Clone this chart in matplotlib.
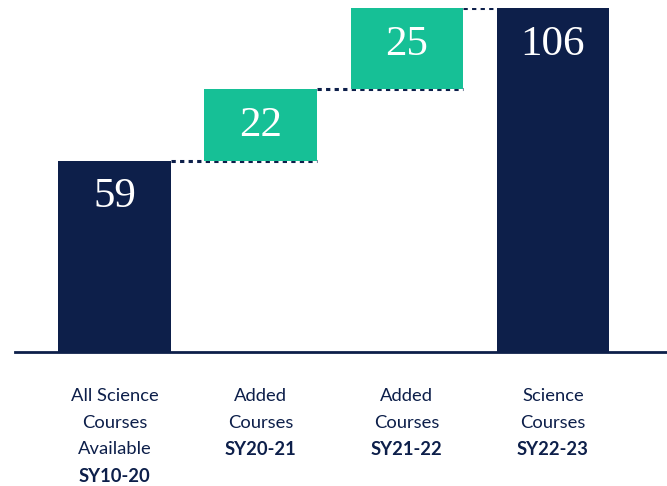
import matplotlib.pyplot as plt

# waterfall of science course counts
label_lines = [["All Science", "Courses", "Available"],
               ["Added", "Courses"],
               ["Added", "Courses"],
               ["Science", "Courses"]]
label_years = ["SY10-20", "SY20-21", "SY21-22", "SY22-23"]
values = [59, 22, 25, 106]
is_total = [True, False, False, True]

NAVY = "#0D1F4A"
GREEN = "#16C096"

fig = plt.figure(figsize=(6.67, 4.86), dpi=100)
ax = fig.add_axes([15 / 667, (486 - 352) / 486, 652 / 667, (352 - 8) / 486])

# bottoms for floating bars
bottoms = []
running = 0
for v, tot in zip(values, is_total):
    if tot:
        bottoms.append(0)
        running = v
    else:
        bottoms.append(running)
        running += v

xs = list(range(len(values)))
width = 0.77
colors = [NAVY if t else GREEN for t in is_total]
ax.bar(xs, values, bottom=bottoms, width=width, color=colors, zorder=2)

# dotted connectors between the bars
for i in range(len(values) - 1):
    level = bottoms[i] + values[i]
    x0 = xs[i] + width / 2
    if is_total[i + 1]:
        x1 = xs[i + 1] - width / 2
    else:
        x1 = xs[i + 1] + width / 2
    ax.plot([x0, x1], [level, level], color=NAVY, lw=2.2,
            linestyle=(0, (1.4, 1.4)), zorder=1, solid_capstyle="butt")

# values inside bars
for x, b, v in zip(xs, bottoms, values):
    ax.text(x, b + v - 11.3, str(v), ha="center", va="center", color="white",
            fontsize=31, family="Liberation Serif")

# category labels below the axis
for x, lines, yr in zip(xs, label_lines, label_years):
    for k, s in enumerate(lines + [yr]):
        ax.annotate(s, xy=(x, 0), xycoords=("data", "axes fraction"),
                    xytext=(0, -(44 + 26.7 * k) * 0.72), textcoords="offset points",
                    ha="center", va="center", fontsize=13.2, family="Lato",
                    fontweight="bold" if s == yr else "normal", color=NAVY)

ax.set_xlim(-0.68, 3.78)
ax.set_ylim(0, 106)
for side in ["top", "right", "left"]:
    ax.spines[side].set_visible(False)
ax.spines["bottom"].set_color(NAVY)
ax.spines["bottom"].set_linewidth(2)
ax.set_xticks([])
ax.set_yticks([])

fig.savefig("out.png", dpi=100)
